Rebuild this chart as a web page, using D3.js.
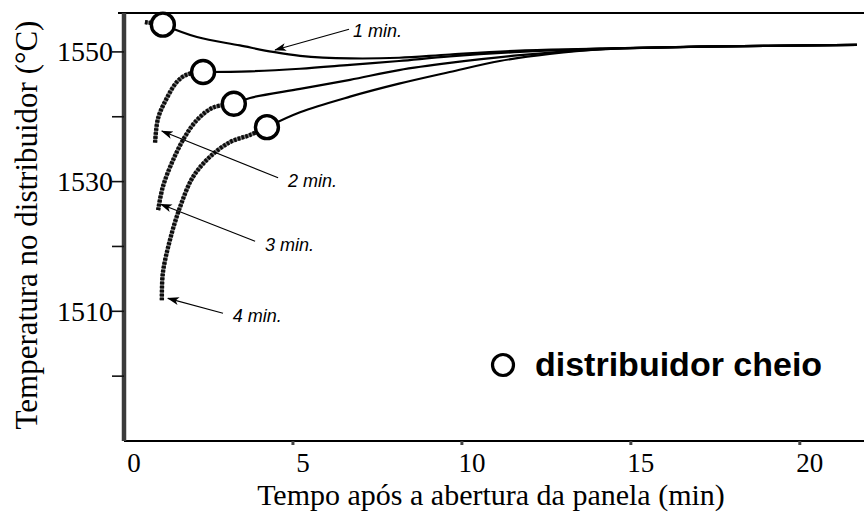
<!DOCTYPE html>
<html>
<head>
<meta charset="utf-8">
<script src="https://cdn.jsdelivr.net/npm/d3@7"></script>
<style>
  html, body { margin: 0; padding: 0; background: #fff; }
  svg { display: block; }
</style>
</head>
<body>
<svg id="chart" width="864" height="520"></svg>
<script>
// Tundish temperature after ladle opening, for ladle-change intervals of 1–4 min.
// Each series: filling phase (before the tundish is full) + steady phase after.
const seriesNames = ["1 min.", "2 min.", "3 min.", "4 min."];

// [time (min), temperature (°C)] during tundish filling
const fill1 = [[0.62, 1554.6], [1.15, 1554.2]];
const fill2 = [[0.92, 1536.0], [1.01, 1539.8], [1.27, 1542.9], [1.57, 1545.4], [1.86, 1546.5], [2.34, 1546.9]];
const fill3 = [[1.01, 1525.6], [1.15, 1529.2], [1.45, 1533.3], [1.80, 1536.9], [2.16, 1539.5], [2.63, 1541.4], [3.25, 1542.0]];
const fill4 = [[1.12, 1511.7], [1.15, 1515.9], [1.36, 1521.0], [1.66, 1526.1], [2.04, 1530.7], [2.54, 1533.8], [3.14, 1536.1], [3.73, 1537.2], [4.23, 1538.4]];

// [time (min), temperature (°C)] once the tundish is full
const full1 = [[1.15, 1554.2], [2.16, 1552.3], [3.43, 1551.0], [4.41, 1550.0], [5.21, 1549.4], [6.69, 1549.0], [8.14, 1549.1], [9.64, 1549.6], [11.72, 1550.2], [14.08, 1550.5], [17.04, 1550.8], [21.69, 1551.1]];
const full2 = [[2.34, 1546.9], [3.73, 1547.0], [5.21, 1547.4], [6.69, 1548.0], [8.14, 1548.6], [9.64, 1549.3], [11.72, 1550.0], [14.08, 1550.5], [17.04, 1550.8], [21.69, 1551.1]];
const full3 = [[3.25, 1542.0], [3.73, 1542.9], [5.21, 1544.3], [6.69, 1545.7], [8.14, 1547.2], [9.64, 1548.3], [11.72, 1549.5], [14.08, 1550.4], [17.04, 1550.8], [21.69, 1551.1]];
const full4 = [[4.23, 1538.4], [5.21, 1540.7], [6.69, 1543.1], [8.14, 1545.1], [9.64, 1546.9], [11.12, 1548.6], [12.60, 1549.7], [14.08, 1550.4], [17.04, 1550.8], [21.69, 1551.1]];

// moments when the tundish becomes full
const fullPoints = [[1.15, 1554.2], [2.34, 1546.9], [3.25, 1542.0], [4.23, 1538.4]];

// annotation: label anchor, arrow tail, arrow tip (data units)
const labelPos = [[6.78, 1552.3], [4.85, 1529.2], [4.17, 1519.3], [3.22, 1508.3]];
const arrowTail = [[6.66, 1553.5], [4.56, 1530.6], [3.88, 1520.8], [2.93, 1509.7]];
const arrowTip = [[4.47, 1550.3], [1.12, 1537.8], [1.09, 1526.5], [1.30, 1512.0]];

const xTicks = [0, 5, 10, 15, 20];
const yTicks = [1500, 1510, 1520, 1530, 1540, 1550];
const yTickLabels = [1510, 1530, 1550];

const xTitle = "Tempo após a abertura da panela (min)";
const yTitle = "Temperatura no distribuidor (°C)";
const legendText = "distribuidor cheio";

const svg = d3.select("#chart");
const W = 864, H = 520;
const x = d3.scaleLinear().domain([0, 21.9]).range([124, 864]);
const y = d3.scaleLinear().domain([1490, 1556]).range([441, 13]);

const defs = svg.append("defs");
defs.append("filter").attr("id", "soft").attr("filterUnits", "userSpaceOnUse")
  .attr("x", 0).attr("y", 0).attr("width", W).attr("height", H)
  .append("feGaussianBlur").attr("stdDeviation", 0.6);
defs.append("marker").attr("id", "arrow")
  .attr("viewBox", "0 -5 12 10").attr("refX", 11).attr("refY", 0)
  .attr("markerWidth", 12).attr("markerHeight", 10).attr("markerUnits", "userSpaceOnUse")
  .attr("orient", "auto")
  .append("path").attr("d", "M0,-4 L12,0 L0,4 L3,0 Z").attr("fill", "#000");

const serif = "'Liberation Serif', 'Times New Roman', serif";
const sans = "'Liberation Sans', Arial, sans-serif";

// frame: top border, x axis baseline, y axis
svg.append("line").attr("x1", x(0) - 6).attr("x2", W).attr("y1", y(1556)).attr("y2", y(1556))
  .attr("stroke", "#000").attr("stroke-width", 2);
svg.append("line").attr("x1", x(0)).attr("x2", W).attr("y1", y(1490)).attr("y2", y(1490))
  .attr("stroke", "#000").attr("stroke-width", 2.2);
svg.append("line").attr("x1", x(0)).attr("x2", x(0)).attr("y1", y(1556)).attr("y2", y(1490))
  .attr("stroke", "#3a3a3a").attr("stroke-width", 4.5).attr("filter", "url(#soft)");

// y ticks
const gy = svg.append("g");
gy.selectAll("line").data(yTicks).join("line")
  .attr("x1", x(0) - 12).attr("x2", x(0)).attr("y1", d => y(d)).attr("y2", d => y(d))
  .attr("stroke", "#111").attr("stroke-width", 1.6);
gy.selectAll("text").data(yTickLabels).join("text")
  .attr("x", x(0) - 11).attr("y", d => y(d)).attr("dy", "0.34em")
  .attr("text-anchor", "end").attr("font-family", serif).attr("font-size", 28)
  .text(d => d);

// x ticks
const gx = svg.append("g");
gx.selectAll("line").data(xTicks.filter(d => d > 0)).join("line")
  .attr("x1", d => x(d)).attr("x2", d => x(d)).attr("y1", y(1490)).attr("y2", y(1490) + 4)
  .attr("stroke", "#444").attr("stroke-width", 3);
gx.selectAll("text").data(xTicks).join("text")
  .attr("x", d => x(d) + 10).attr("y", 472)
  .attr("text-anchor", "middle").attr("font-family", serif).attr("font-size", 27)
  .text(d => d);

// axis titles
svg.append("text").attr("x", 491).attr("y", 505).attr("text-anchor", "middle")
  .attr("font-family", serif).attr("font-size", 30).text(xTitle);
svg.append("text").attr("transform", "translate(37,225) rotate(-90)").attr("text-anchor", "middle")
  .attr("font-family", serif).attr("font-size", 31).text(yTitle);

// curves
const line = d3.line().x(d => x(d[0])).y(d => y(d[1])).curve(d3.curveCatmullRom.alpha(0.5));
const fills = [fill1, fill2, fill3, fill4];
const fulls = [full1, full2, full3, full4];

const gFill = svg.append("g").attr("filter", "url(#soft)");
gFill.selectAll("path.base").data(fills).join("path").attr("class", "base")
  .attr("d", line).attr("fill", "none").attr("stroke", "#7a7a7a").attr("stroke-width", 3.8);
gFill.selectAll("path.bead").data(fills).join("path").attr("class", "bead")
  .attr("d", line).attr("fill", "none").attr("stroke", "#111").attr("stroke-width", 4.4)
  .attr("stroke-dasharray", "2.6,1.4");

svg.append("g").selectAll("path").data(fulls).join("path")
  .attr("d", line).attr("fill", "none").attr("stroke", "#000").attr("stroke-width", 2.2);

// full-tundish markers
svg.append("g").selectAll("circle").data(fullPoints).join("circle")
  .attr("cx", d => x(d[0])).attr("cy", d => y(d[1])).attr("r", 11.5)
  .attr("fill", "#fff").attr("stroke", "#000").attr("stroke-width", 3.4);

// annotations
const ann = svg.append("g");
ann.selectAll("line").data(seriesNames).join("line")
  .attr("x1", (d, i) => x(arrowTail[i][0])).attr("y1", (d, i) => y(arrowTail[i][1]))
  .attr("x2", (d, i) => x(arrowTip[i][0])).attr("y2", (d, i) => y(arrowTip[i][1]))
  .attr("stroke", "#000").attr("stroke-width", 1.2).attr("marker-end", "url(#arrow)");
ann.selectAll("text").data(seriesNames).join("text")
  .attr("x", (d, i) => x(labelPos[i][0])).attr("y", (d, i) => y(labelPos[i][1]))
  .attr("font-family", sans).attr("font-style", "italic").attr("font-size", 18)
  .text(d => d);

// legend
const lg = svg.append("g");
lg.append("circle").attr("cx", 503).attr("cy", 365).attr("r", 10.5)
  .attr("fill", "#fff").attr("stroke", "#000").attr("stroke-width", 3.2);
lg.append("text").attr("x", 535).attr("y", 376)
  .attr("font-family", sans).attr("font-weight", "bold").attr("font-size", 34)
  .text(legendText);
</script>
</body>
</html>
